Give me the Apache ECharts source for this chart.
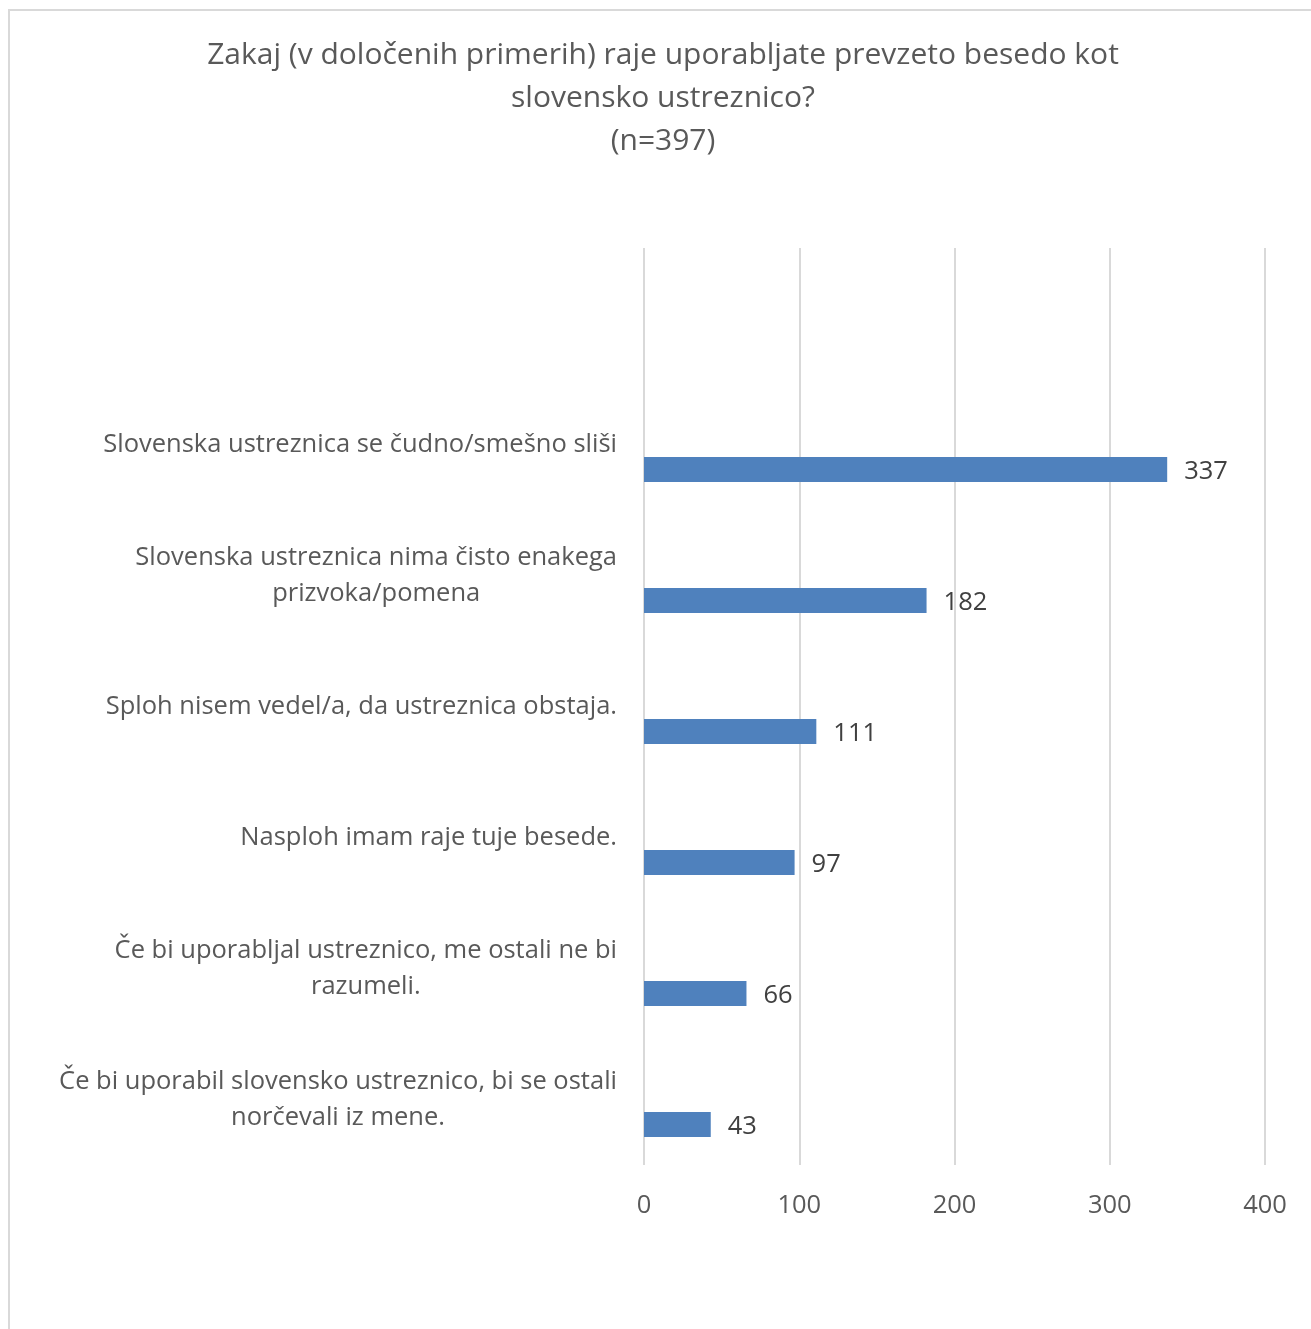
<!DOCTYPE html>
<html>
<head>
<meta charset="utf-8">
<title>Zakaj raje uporabljate prevzeto besedo</title>
<script src="https://cdn.jsdelivr.net/npm/echarts@6/dist/echarts.min.js"></script>
<style>
  html, body { margin: 0; padding: 0; background: #ffffff; }
  #chart { width: 1311px; height: 1329px; }
</style>
</head>
<body>
<div id="chart"></div>
<script>
// Survey answers (n=397), top to bottom
const categories = [
  'Slovenska ustreznica se čudno/smešno sliši',
  'Slovenska ustreznica nima čisto enakega\nprizvoka/pomena',
  'Sploh nisem vedel/a, da ustreznica obstaja.',
  'Nasploh imam raje tuje besede.',
  'Če bi uporabljal ustreznico, me ostali ne bi\nrazumeli.',
  'Če bi uporabil slovensko ustreznico, bi se ostali\nnorčevali iz mene.'
];
const counts = [337, 182, 111, 97, 66, 43];
const xTicks = { min: 0, max: 400, interval: 100 };
const titleText = 'Zakaj (v določenih primerih) raje uporabljate prevzeto besedo kot\nslovensko ustreznico?\n(n=397)';

const FONT = '"Open Sans", "Noto Sans", sans-serif';
const GREY = '#595959';

// An empty leading slot and an empty companion series reproduce the
// spreadsheet layout: labels sit mid-band, bars sit in the lower half.
const yData = [''].concat(categories);
const barData = ['-'].concat(counts);
const ghostData = yData.map(() => '-');

const chart = echarts.init(document.getElementById('chart'), null, { renderer: 'canvas' });

chart.setOption({
  backgroundColor: '#ffffff',
  animation: false,
  title: {
    text: titleText,
    left: 658,
    top: 29,
    textAlign: 'center',
    textStyle: {
      fontFamily: FONT,
      fontSize: 30,
      fontWeight: 'normal',
      color: GREY,
      lineHeight: 43
    }
  },
  graphic: [{
    type: 'rect',
    shape: { x: 9, y: 10, width: 1330, height: 1340 },
    style: { fill: 'none', stroke: '#d9d9d9', lineWidth: 2 },
    silent: true
  }],
  grid: { left: 644, right: 46, top: 248, bottom: 164, containLabel: false },
  xAxis: {
    type: 'value',
    min: xTicks.min,
    max: xTicks.max,
    interval: xTicks.interval,
    axisLine: { show: false },
    axisTick: { show: false },
    splitLine: { show: true, lineStyle: { color: '#d9d9d9', width: 2 } },
    axisLabel: { fontFamily: FONT, fontSize: 25.5, color: GREY, margin: 28 }
  },
  yAxis: {
    type: 'category',
    inverse: true,
    data: yData,
    axisLine: { show: false },
    axisTick: { show: false },
    splitLine: { show: false },
    axisLabel: {
      margin: 27,
      align: 'right',
      interval: 0,
      formatter: function (v) {
        if (!v) return '';
        return v.split('\n').map(line => '{c|' + line + '}').join('\n');
      },
      rich: {
        c: { fontFamily: FONT, fontSize: 25.5, color: GREY, lineHeight: 36, align: 'center' }
      }
    }
  },
  series: [
    {
      type: 'bar',
      name: 'ghost',
      data: ghostData,
      barWidth: 25,
      barGap: '100%',
      silent: true
    },
    {
      type: 'bar',
      name: 'Število',
      data: barData,
      barWidth: 25,
      barGap: '100%',
      itemStyle: { color: '#4f81bd' },
      label: {
        show: true,
        position: 'right',
        distance: 17,
        offset: [0, 2],
        fontFamily: FONT,
        fontSize: 25.5,
        color: '#404040'
      }
    }
  ]
});
</script>
</body>
</html>
